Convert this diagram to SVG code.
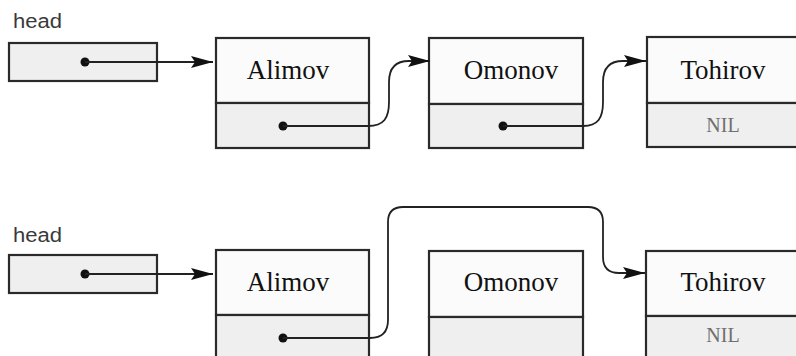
<svg xmlns="http://www.w3.org/2000/svg" width="796" height="356" viewBox="0 0 796 356">
<defs>
<style>
.box{fill:#fbfbfb;stroke:#2a2a2a;stroke-width:2.2}
.ptr{fill:#efefef;stroke:#2a2a2a;stroke-width:2.2}
.name{font-family:"Liberation Serif","Times New Roman",serif;font-size:27px;fill:#111;text-anchor:middle}
.nil{font-family:"Liberation Serif","Times New Roman",serif;font-size:20px;fill:#707070;text-anchor:middle}
.lbl{font-family:"Liberation Sans",Arial,sans-serif;font-size:20px;fill:#3a3a3a}
.dot{fill:#111}
.conn{fill:none;stroke:#222;stroke-width:1.8}
</style>
<marker id="arr" viewBox="0 0 22 12" refX="22" refY="6" markerWidth="22" markerHeight="12" markerUnits="userSpaceOnUse" orient="auto">
<path d="M0,0 L22,6 L0,12 L4,6 z" fill="#111"/>
</marker>
</defs>
<rect width="796" height="356" fill="#ffffff"/>

<g id="head1">
<text class="lbl" x="13" y="28" textLength="49" lengthAdjust="spacingAndGlyphs">head</text>
<rect class="ptr" x="9" y="43" width="148" height="38"/>
<circle class="dot" cx="85" cy="62" r="4.5"/>
</g>
<g id="alimov1">
<rect class="box" x="216" y="38" width="153" height="65"/>
<rect class="ptr" x="216" y="103" width="153" height="45"/>
<text class="name" x="288" y="79">Alimov</text>
<circle class="dot" cx="283" cy="126" r="4.5"/>
</g>
<g id="omonov1">
<rect class="box" x="429" y="38" width="154" height="66"/>
<rect class="ptr" x="429" y="104" width="154" height="44"/>
<text class="name" x="511" y="79">Omonov</text>
<circle class="dot" cx="503" cy="126" r="4.5"/>
</g>
<g id="tohirov1">
<rect class="box" x="647" y="37" width="160" height="66"/>
<rect class="ptr" x="647" y="103" width="160" height="44"/>
<text class="name" x="723" y="79">Tohirov</text>
<text class="nil" x="723" y="132">NIL</text>
</g>

<g id="head2">
<text class="lbl" x="13" y="242" textLength="49" lengthAdjust="spacingAndGlyphs">head</text>
<rect class="ptr" x="9" y="255" width="148" height="38"/>
<circle class="dot" cx="85" cy="274" r="4.5"/>
</g>
<g id="alimov2">
<rect class="box" x="216" y="250" width="153" height="65"/>
<rect class="ptr" x="216" y="315" width="153" height="60"/>
<text class="name" x="288" y="291">Alimov</text>
<circle class="dot" cx="283" cy="338" r="4.5"/>
</g>
<g id="omonov2">
<rect class="box" x="429" y="251" width="154" height="66"/>
<rect class="ptr" x="429" y="317" width="154" height="60"/>
<text class="name" x="511" y="291">Omonov</text>
</g>
<g id="tohirov2">
<rect class="box" x="646" y="251" width="160" height="65"/>
<rect class="ptr" x="646" y="316" width="160" height="60"/>
<text class="name" x="723" y="291">Tohirov</text>
<text class="nil" x="723" y="342">NIL</text>
</g>

<g id="connectors">
<path class="conn" d="M85,62 H213" marker-end="url(#arr)"/>
<path class="conn" d="M283,126 H368 C384,126 389,118 389,102 V82 C389,68 395,61 409,61 H430" marker-end="url(#arr)"/>
<path class="conn" d="M503,126 H583 C598,126 603,118 603,102 V82 C603,68 609,61 623,61 H646" marker-end="url(#arr)"/>
<path class="conn" d="M85,274 H213" marker-end="url(#arr)"/>
<path class="conn" d="M283,338 H370 Q388,338 388,320 V222 Q388,207 403,207 H588 Q603,207 603,222 V257 Q603,273 619,273 H645" marker-end="url(#arr)"/>
</g>
</svg>
